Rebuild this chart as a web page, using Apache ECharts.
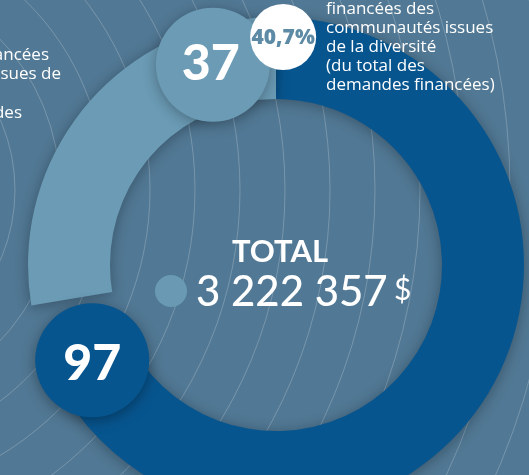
<!DOCTYPE html>
<html lang="fr">
<head>
<meta charset="UTF-8">
<title>Demandes financées</title>
<script src="https://cdn.jsdelivr.net/npm/echarts@6/dist/echarts.min.js"></script>
<style>
  html, body { margin: 0; padding: 0; background: #517894; }
  #chart { width: 529px; height: 475px; }
</style>
</head>
<body>
<div id="chart"></div>
<script>
// donnees
var categories = ['Autres demandes financées', 'Communautés issues de la diversité'];
var counts = [97, 37];
var colors = ['#07558f', '#6b9bb5'];
var sharePct = '40,7%';
var totalLabel = 'TOTAL';
var totalAmount = '3 222 357';

var cx = 276, cy = 265, rIn = 166, rOut = 248;
var rMid = (rIn + rOut) / 2;
var total = counts[0] + counts[1];
var darkEnd = counts[0] / total * 360;   // degrees clockwise from top
var gap = 15;  // dark arc stops short, its tail sits under the 97 badge

function pos(deg, r) {
  var a = deg * Math.PI / 180;
  return [cx + r * Math.sin(a), cy - r * Math.cos(a)];
}

// background ripples
var ripples = [];
for (var k = 1; k <= 22; k++) {
  ripples.push({
    type: 'circle', silent: true, z: 0,
    shape: { cx: -160, cy: 190, r: 40 + k * 45 },
    style: { fill: 'none', stroke: 'rgba(255,255,255,0.22)', lineWidth: 1 }
  });
}

var p97 = pos(darkEnd - 18, rMid);
var p37 = pos(360 - 17.5, rMid + 3);
var pPct = pos(1.8, 228);

// one ring per colour, both built from the same counts
function ring(showIdx, pad, start) {
  return {
    type: 'pie',
    center: [cx, cy],
    radius: [rIn, rOut],
    startAngle: start,
    padAngle: pad,
    clockwise: true,
    silent: true,
    label: { show: false },
    labelLine: { show: false },
    data: categories.map(function (c, i) {
      return {
        name: c, value: counts[i],
        itemStyle: i === showIdx
          ? { color: colors[i], shadowBlur: 14, shadowColor: 'rgba(0,0,0,0.3)', shadowOffsetY: 2 }
          : { color: 'rgba(0,0,0,0)' }
      };
    })
  };
}

var chart = echarts.init(document.getElementById('chart'));
chart.setOption({
  backgroundColor: '#517894',
  animation: false,
  graphic: ripples.concat([
    // left, cut-off text
    { type: 'text', z: 5, x: 49, y: 55, style: { text: 'demandes financées', fill: '#fff', font: '17px "Open Sans"', align: 'right', verticalAlign: 'middle' } },
    { type: 'text', z: 5, x: 61, y: 74, style: { text: 'des communautés issues de', fill: '#fff', font: '17px "Open Sans"', align: 'right', verticalAlign: 'middle' } },
    { type: 'text', z: 5, x: 22, y: 113, style: { text: '(du total des demandes', fill: '#fff', font: '17px "Open Sans"', align: 'right', verticalAlign: 'middle' } },
    // right text
    { type: 'text', z: 5, x: 326, y: 0, style: { text: 'financées des\ncommunautés issues\nde la diversité\n(du total des\ndemandes financées)', fill: '#fff', font: '17px "Open Sans"', lineHeight: 19, verticalAlign: 'top' } },
    // badge 97
    { type: 'circle', z: 20, shape: { cx: p97[0], cy: p97[1], r: 57 }, style: { fill: colors[0], shadowBlur: 14, shadowColor: 'rgba(0,0,0,0.35)', shadowOffsetY: 3 } },
    { type: 'text', z: 21, x: p97[0], y: p97[1] + 4, style: { text: String(counts[0]), fill: '#fff', font: '900 50px Lato', align: 'center', verticalAlign: 'middle' } },
    // badge 37
    { type: 'circle', z: 20, shape: { cx: p37[0], cy: p37[1], r: 57 }, style: { fill: colors[1], shadowBlur: 14, shadowColor: 'rgba(0,0,0,0.3)', shadowOffsetY: 3 } },
    { type: 'text', z: 21, x: p37[0] - 2, y: p37[1] - 1, style: { text: String(counts[1]), fill: '#fff', font: '900 50px Lato', align: 'center', verticalAlign: 'middle' } },
    // white pct badge
    { type: 'circle', z: 22, shape: { cx: pPct[0], cy: pPct[1], r: 33 }, style: { fill: '#fff' } },
    { type: 'text', z: 23, x: pPct[0], y: pPct[1] + 1, style: { text: sharePct, fill: '#5d8ba6', font: '800 21px "Open Sans"', align: 'center', verticalAlign: 'middle' } },
    // center
    { type: 'circle', z: 5, shape: { cx: 171, cy: 291, r: 16 }, style: { fill: '#6a9ab3' } },
    { type: 'text', z: 5, x: 280, y: 252, style: { text: totalLabel, fill: '#fff', font: 'bold 31px Lato', align: 'center', verticalAlign: 'middle' } },
    { type: 'text', z: 5, x: 196, y: 292, style: { text: totalAmount, fill: '#fff', font: '500 42px Lato', align: 'left', verticalAlign: 'middle' } },
    { type: 'text', z: 5, x: 394, y: 290, style: { text: '$', fill: '#fff', font: '30px Lato', align: 'left', verticalAlign: 'middle' } }
  ]),
  series: [
    ring(0, gap, 90 + gap / 2),
    ring(1, 0, 90)
  ]
});
</script>
</body>
</html>
